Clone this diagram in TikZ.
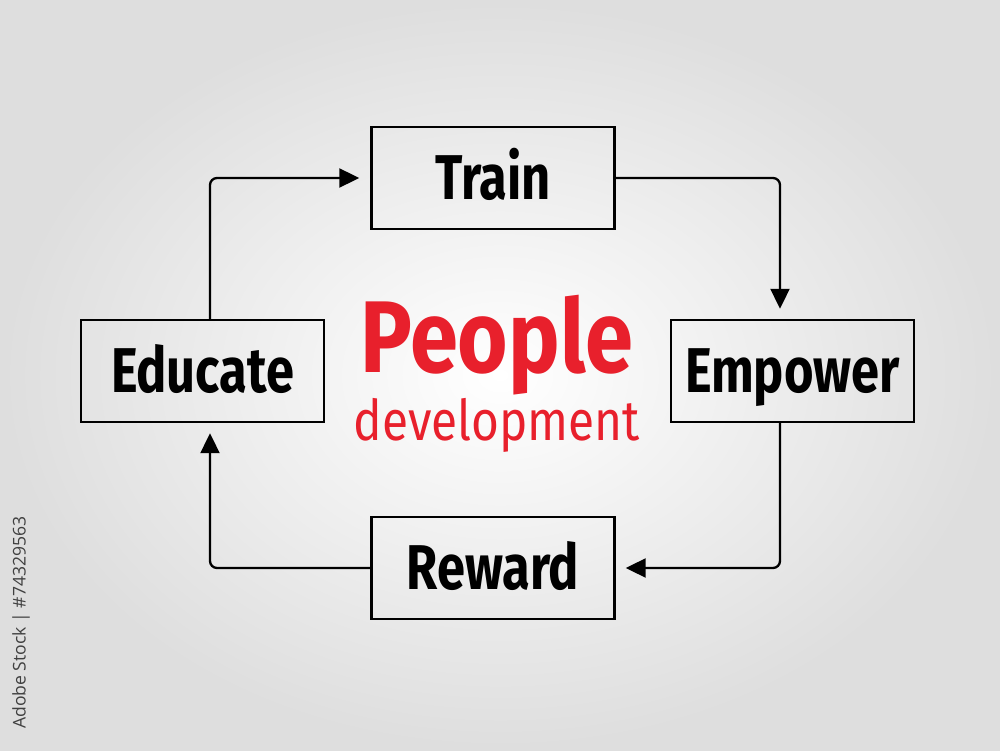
\documentclass[tikz,border=0pt]{standalone}
\usepackage{fontspec}
\usepackage{tikz}
\usetikzlibrary{arrows.meta}

\newfontfamily\handfont[FakeStretch=0.8]{Fira Sans}
\newfontfamily\titlefont[FakeStretch=0.85]{Fira Sans}
\newfontfamily\stockfont{Open Sans}
\definecolor{peoplered}{RGB}{232,32,44}

\begin{document}
\begin{tikzpicture}[
        stage/.style={
            % The shape:
            rectangle,
            % The size:
            minimum width=4.86cm,
            minimum height=2.04cm,
            text height=0.86cm,
            text depth=0cm,
            % The border
            line width=1.4pt,
            draw=black,
            % Font
            font=\handfont\bfseries\fontsize{36}{40}\selectfont
        },
        flow/.style={
            line width=1.3pt,
            rounded corners=4pt,
            -{Triangle[length=0.4cm,width=0.38cm]}
        }]

        % The background:
        \shade [inner color=white, outer color=black!13] (0,0) rectangle (20,15);
        \useasboundingbox (0,0) rectangle (20,15);

        \foreach \name/\x/\y/\stagetext in {train/9.86/11.44/Train, empower/15.85/7.58/Empower, reward/9.86/3.64/Reward, educate/4.05/7.58/Educate}
        {
            \node [stage] (\name) at (\x,\y) {\stagetext};
        }

        % The title:
        \node [anchor=base, text=peoplered, font=\titlefont\bfseries\fontsize{58}{60}\selectfont] (people) at (9.94,7.56) {People};
        \node [anchor=base, text=peoplered, font=\titlefont\fontsize{32}{34}\selectfont] (development) at (9.94,6.2) {development};

        % The arrows:
        \draw [flow, shorten >=0.22cm] ([xshift=0.15cm]educate.north) |- (train.west);
        \draw [flow, shorten >=0.2cm] (train.east) -| ([xshift=-0.25cm]empower.north);
        \draw [flow, shorten >=0.2cm] ([xshift=-0.25cm]empower.south) |- (reward.east);
        \draw [flow, shorten >=0.2cm] (reward.west) -| ([xshift=0.15cm]educate.south);

        \node [rotate=90, anchor=west, text=black!75, font=\stockfont\fontsize{10}{12}\selectfont] (stock) at (0.42,0.3) {Adobe Stock | \#74329563};

    \end{tikzpicture}
\end{document}
